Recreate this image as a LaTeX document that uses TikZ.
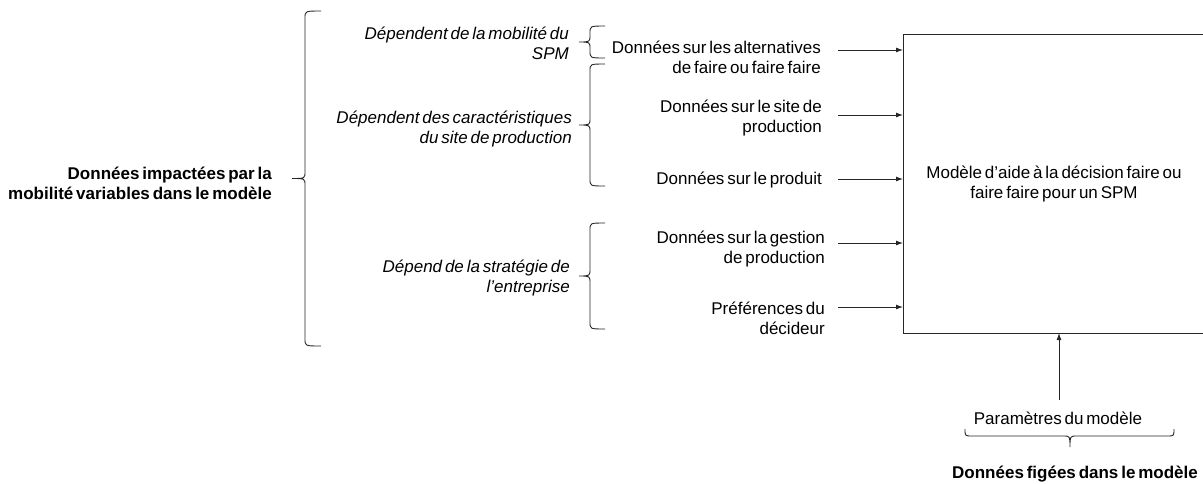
\documentclass[tikz,border=0pt]{standalone}
\usepackage{fontspec}
\setmainfont{Liberation Sans}[WordSpace=0.6]
\usetikzlibrary{arrows.meta}
\newcommand\mybraceL[5]{% spine x, tip x, end x, top y, bottom y
  \pgfmathsetmacro\bm{(#4+#5)/2}
  \draw[bracestyle] (#3,#4) .. controls (#1,#4) and (#1,#4) .. (#1,#4+7)
    -- (#1,\bm-7) .. controls (#1,\bm) and (#1,\bm) .. (#2,\bm)
    .. controls (#1,\bm) and (#1,\bm) .. (#1,\bm+7)
    -- (#1,#5-7) .. controls (#1,#5) and (#1,#5) .. (#3,#5);}
\begin{document}
\begin{tikzpicture}[x=1pt,y=-1pt,
  txt/.style={font=\fontsize{17}{20}\selectfont, inner sep=0pt, align=right, anchor=east},
  itxt/.style={txt, font=\fontsize{17}{20}\selectfont\itshape},
  btxt/.style={txt, font=\fontsize{17}{20}\selectfont\bfseries},
  bracestyle/.style={draw=black!85, line width=0.9pt},
  arr/.style={draw=black!85, line width=0.9pt, -{Latex[length=7pt,width=5pt]}},
  mainbox/.style={draw=black!85, line width=1pt}]
\useasboundingbox (0,0) rectangle (1203,483);
\clip (0,0) rectangle (1203,483);
% main box
\draw[mainbox] (903,34) rectangle (1220,333);
\node[txt, anchor=center, align=center] (box) at (1054,184) {Modèle d’aide à la décision faire ou\\faire faire pour un SPM};
\coordinate (boxW) at (903,184);
\coordinate (boxS) at (1059,333);
% left bold
\node[btxt] (left) at (272,183) {Données impactées par la\\mobilité variables dans le modèle};
\mybraceL{305}{292}{321}{11}{346}
% italic group labels
\node[itxt] (g1) at (569,43) {Dépendent de la mobilité du\\SPM};
\node[itxt] (g2) at (572,129) {Dépendent des caractéristiques\\du site de production};
\node[itxt] (g3) at (570,278) {Dépend de la stratégie de\\l’entreprise};
\mybraceL{590}{579}{605}{26}{58}
\mybraceL{590}{579}{605}{64}{186}
\mybraceL{590}{579}{605}{223}{329}
% data items
\node[txt] (d1) at (821,57) {Données sur les alternatives\\de faire ou faire faire};
\node[txt] (d2) at (822,118) {Données sur le site de\\production};
\node[txt] (d3) at (822,180) {Données sur le produit};
\node[txt] (d4) at (825,249) {Données sur la gestion\\de production};
\node[txt] (d5) at (825,318) {Préférences du\\décideur};
\coordinate (a1) at (838,50);
\coordinate (a2) at (838,115);
\coordinate (a3) at (838,179);
\coordinate (a4) at (838,243);
\coordinate (a5) at (838,307);
\foreach \a in {a1,a2,a3,a4,a5} \draw[arr] (\a) -- (\a -| boxW);
% bottom
\node[txt, anchor=center, align=center] (param) at (1058,418) {Paramètres du modèle};
\coordinate (pa) at (1059,400);
\draw[arr] (pa) -- (boxS);
\draw[bracestyle] (965,429) .. controls (965,436) and (965,436) .. (972,436)
  -- (1063,436) .. controls (1070,436) and (1070,436) .. (1070,447)
  .. controls (1070,436) and (1070,436) .. (1077,436)
  -- (1167,436) .. controls (1174,436) and (1174,436) .. (1174,429);
\node[btxt, anchor=center, align=center] (fixed) at (1075,474) {Données figées dans le modèle};
\end{tikzpicture}
\end{document}
